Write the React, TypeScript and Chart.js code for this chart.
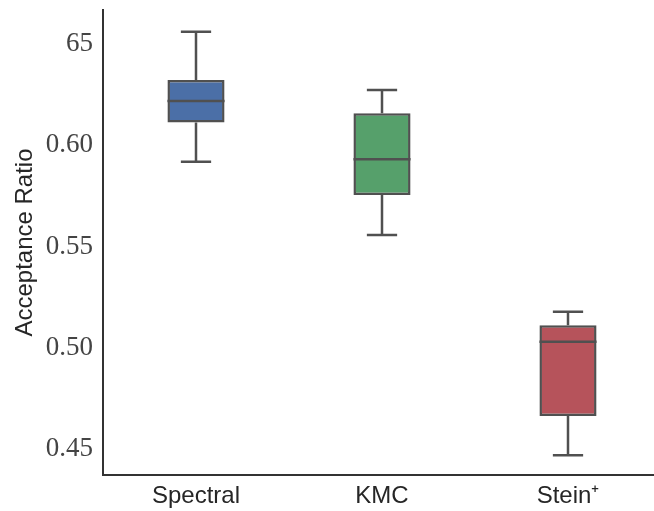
import React, { useEffect, useRef } from "react";
import { Chart, registerables } from "chart.js";

Chart.register(...registerables);

const categories = ["Spectral", "KMC", "Stein\u207A"];
const whiskerLow = [0.5919, 0.5557, 0.447];
const q1 = [0.6113, 0.5754, 0.4663];
const medians = [0.6219, 0.5931, 0.503];
const q3 = [0.6322, 0.6158, 0.5112];
const whiskerHigh = [0.6561, 0.6273, 0.5178];
const boxColors = ["#4b6fa7", "#56a06b", "#b6535b"];
const yTicks = [0.45, 0.5, 0.55, 0.6, 0.65];
const yTickLabels = ["0.45", "0.50", "0.55", "0.60", "65"];

const LINE = "#505050";

const boxPlugin = {
  id: "boxParts",
  afterDatasetsDraw(chart: any) {
    const ctx = chart.ctx;
    const y = chart.scales.y;
    const meta = chart.getDatasetMeta(0);
    ctx.save();
    ctx.strokeStyle = LINE;
    ctx.lineWidth = 2.5;
    ctx.lineCap = "butt";
    meta.data.forEach((bar: any, i: number) => {
      const cx = bar.x;
      const w = bar.width;
      const capW = w * 0.53;
      const yLo = y.getPixelForValue(whiskerLow[i]);
      const yQ1 = y.getPixelForValue(q1[i]);
      const yMed = y.getPixelForValue(medians[i]);
      const yQ3 = y.getPixelForValue(q3[i]);
      const yHi = y.getPixelForValue(whiskerHigh[i]);
      ctx.beginPath();
      ctx.moveTo(cx, yQ1);
      ctx.lineTo(cx, yLo);
      ctx.moveTo(cx, yQ3);
      ctx.lineTo(cx, yHi);
      ctx.moveTo(cx - capW / 2, yLo);
      ctx.lineTo(cx + capW / 2, yLo);
      ctx.moveTo(cx - capW / 2, yHi);
      ctx.lineTo(cx + capW / 2, yHi);
      ctx.moveTo(cx - w / 2, yMed);
      ctx.lineTo(cx + w / 2, yMed);
      ctx.stroke();
    });
    ctx.restore();
  },
};

export default function App() {
  const ref = useRef<HTMLCanvasElement | null>(null);
  useEffect(() => {
    if (!ref.current) return;
    const chart = new Chart(ref.current, {
      type: "bar",
      data: {
        labels: categories,
        datasets: [
          {
            data: q1.map((v, i) => [v, q3[i]]) as any,
            backgroundColor: boxColors,
            borderColor: LINE,
            borderWidth: 2.5,
            borderSkipped: false,
            categoryPercentage: 1,
            barPercentage: 0.307,
          },
        ],
      },
      options: {
        responsive: false,
        animation: false,
        devicePixelRatio: 1,
        layout: { padding: { left: 0, right: 9, top: 10, bottom: 0 } },
        plugins: {
          legend: { display: false },
          tooltip: { enabled: false },
        },
        scales: {
          x: {
            grid: { display: false, drawTicks: false },
            border: { display: true, color: "#333333", width: 2 },
            ticks: {
              padding: 7,
              color: "#262626",
              font: { family: "'Liberation Sans', Arial, sans-serif", size: 24 },
            },
            afterFit(scale: any) {
              scale.height = 36;
              scale.paddingLeft = 0;
              scale.paddingRight = 0;
            },
          },
          y: {
            min: 0.4372,
            max: 0.6668,
            grid: { display: false, drawTicks: false },
            border: { display: true, color: "#333333", width: 2 },
            afterBuildTicks(scale: any) {
              scale.ticks = yTicks.map((v) => ({ value: v }));
            },
            ticks: {
              padding: 10,
              color: "#444444",
              font: { family: "'Liberation Serif', 'Times New Roman', serif", size: 27 },
              callback: (value: any) => {
                const idx = yTicks.findIndex((t) => Math.abs(t - Number(value)) < 1e-6);
                return idx >= 0 ? yTickLabels[idx] : "";
              },
            },
            title: {
              display: true,
              text: "Acceptance Ratio",
              color: "#262626",
              padding: { top: 11, bottom: 0 },
              font: { family: "'Liberation Sans', Arial, sans-serif", size: 24 },
            },
            afterFit(scale: any) {
              scale.width = 103;
              scale.paddingTop = 0;
              scale.paddingBottom = 0;
            },
          },
        },
      },
      plugins: [boxPlugin],
    });
    return () => chart.destroy();
  }, []);
  return (
    <div
      style={{
        position: "absolute",
        left: 0,
        top: 0,
        width: 654,
        height: 511,
        overflow: "hidden",
        background: "#ffffff",
      }}
    >
      <canvas ref={ref} width={670} height={511} style={{ display: "block" }} />
    </div>
  );
}
